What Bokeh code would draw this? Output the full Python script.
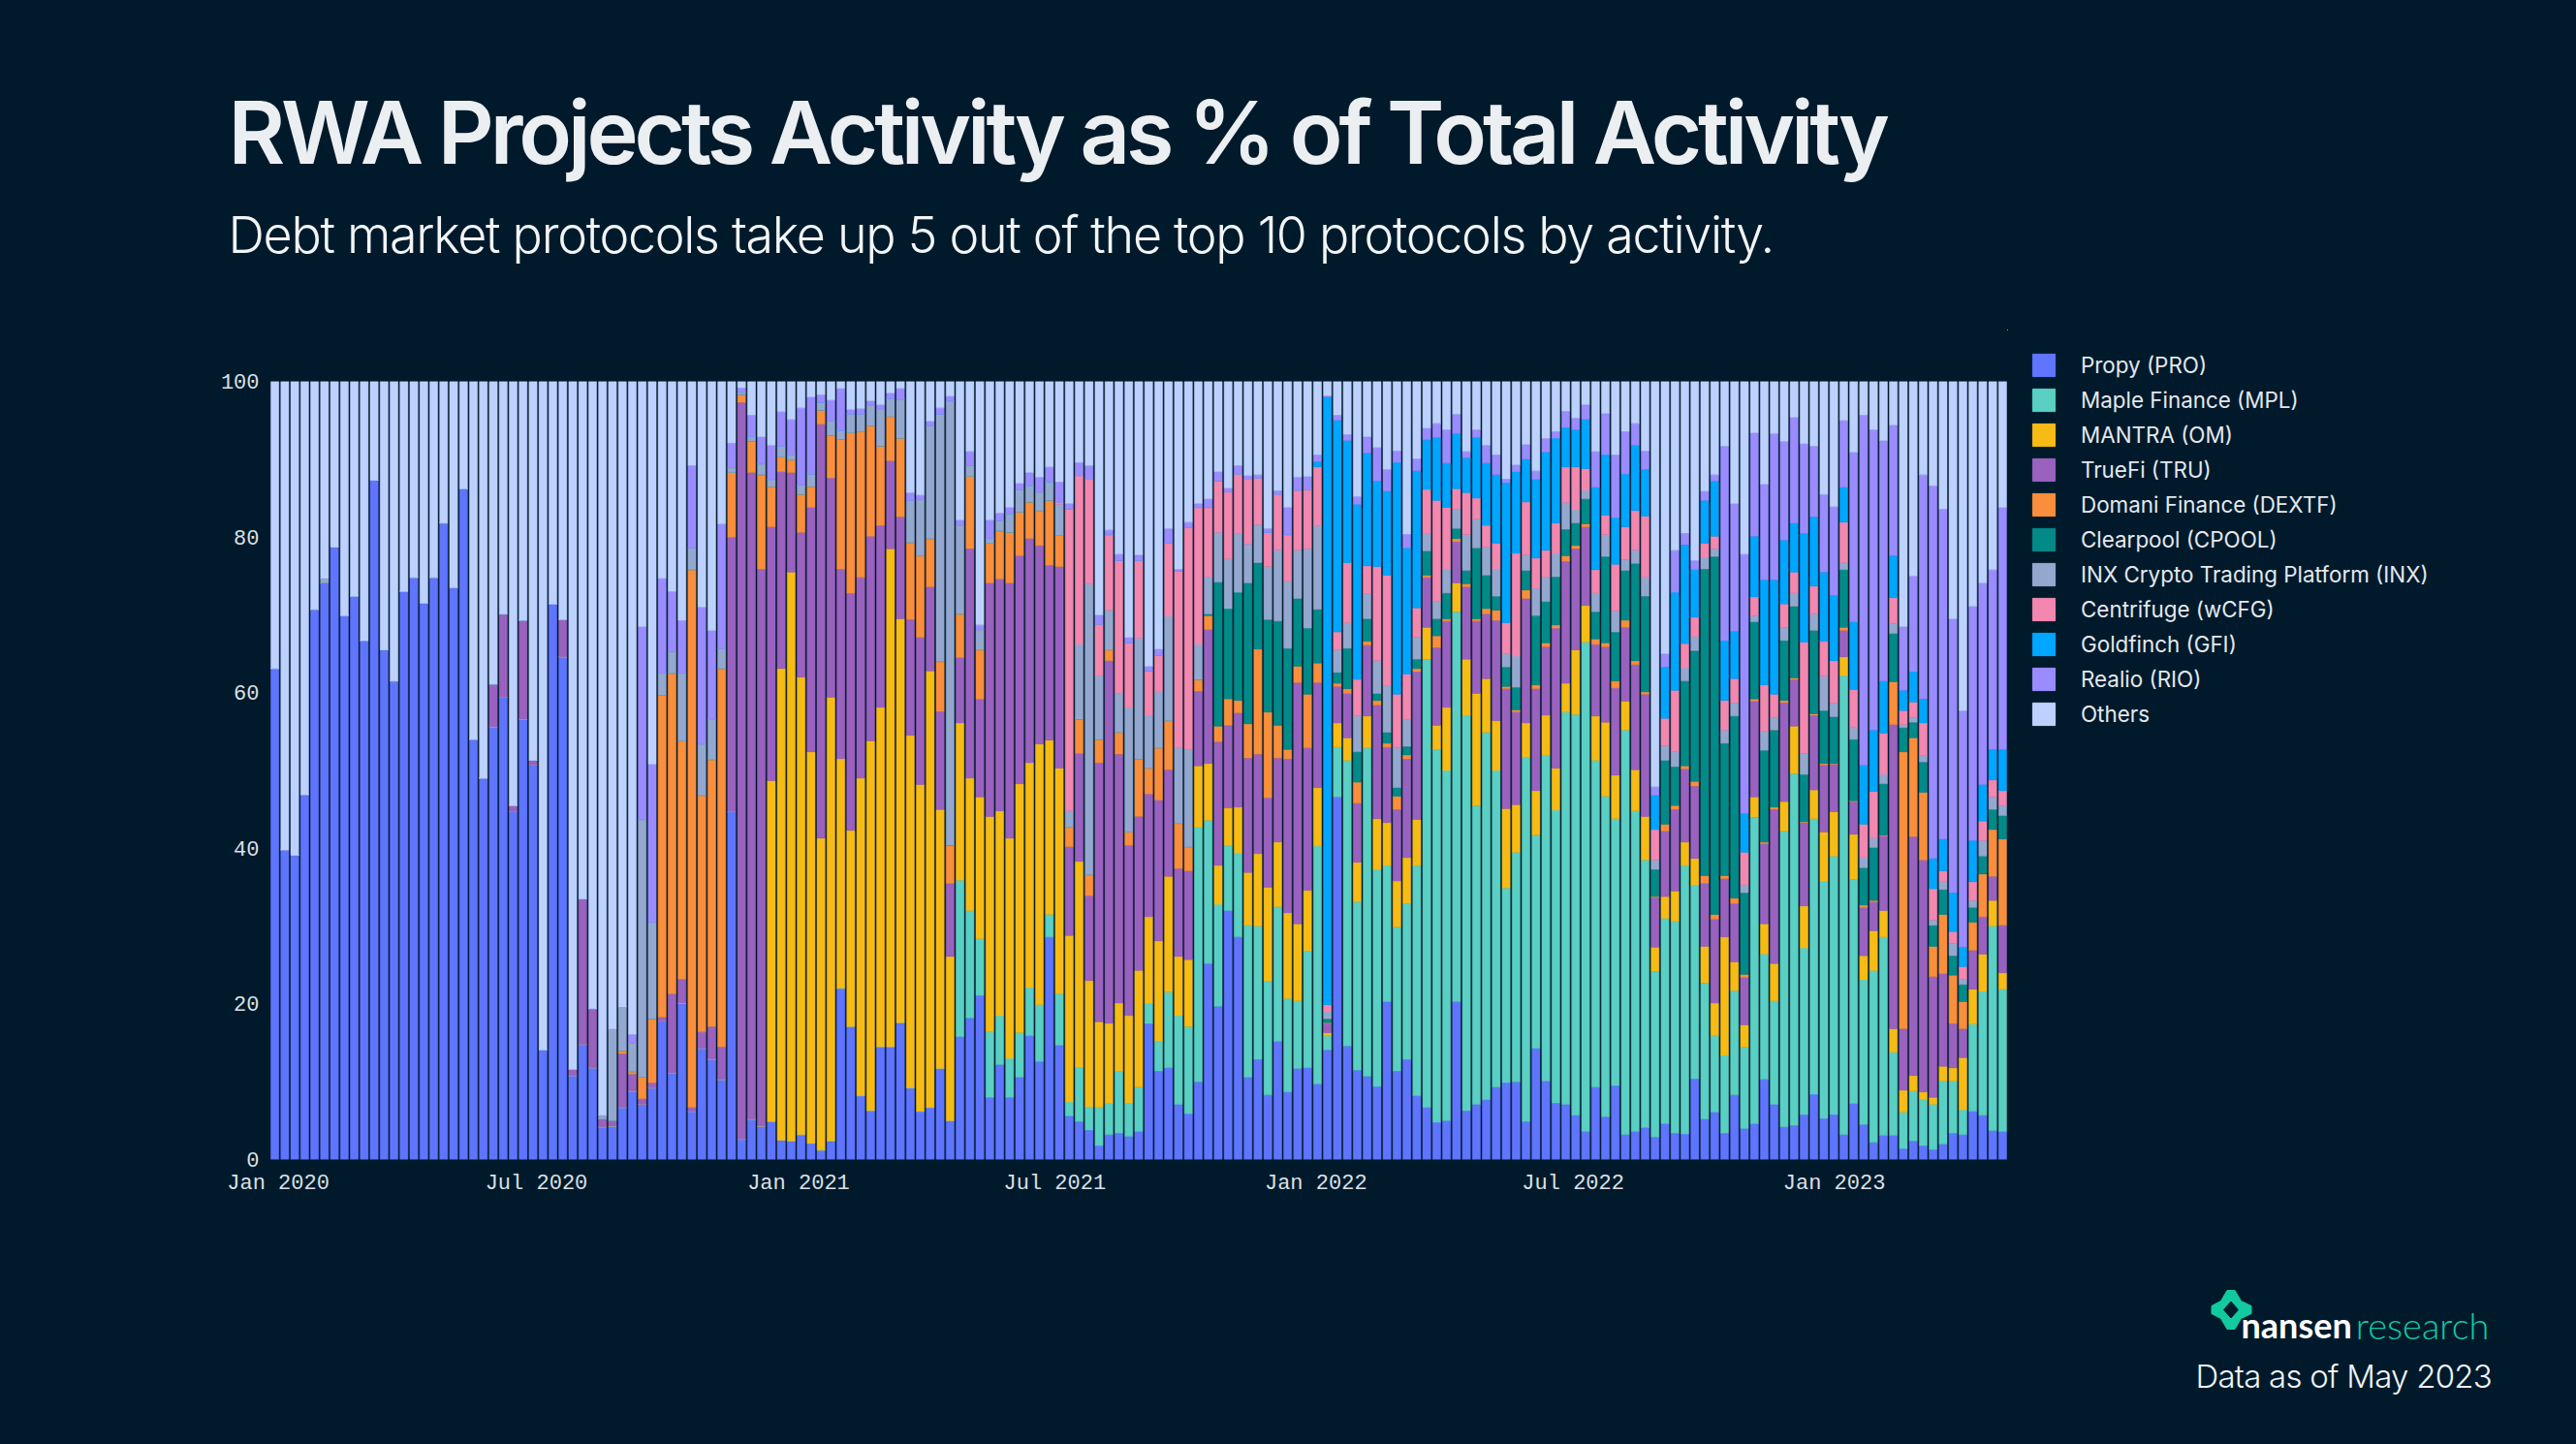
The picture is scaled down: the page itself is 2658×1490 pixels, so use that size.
from bokeh.plotting import figure
from bokeh.layouts import column, row
from bokeh.models import Range1d, ColumnDataSource, Label, Legend, LegendItem, FixedTicker
from bokeh.embed import file_html
from bokeh.resources import INLINE

BG = "#001A2C"
labels_ = ["Propy (PRO)", "Maple Finance (MPL)", "MANTRA (OM)", "TrueFi (TRU)", "Domani Finance (DEXTF)",
           "Clearpool (CPOOL)", "INX Crypto Trading Platform (INX)", "Centrifuge (wCFG)", "Goldfinch (GFI)",
           "Realio (RIO)", "Others"]
colors = ["#5F75FF", "#5ACFC3", "#F6BC15", "#9A62BF", "#F98E3C", "#028A88", "#94A8CF", "#F287B0", "#00A6FF",
          "#9A8CFF", "#BDD1FF"]

pro = [63.1,39.8,39.1,46.9,70.7,74.1,78.7,69.9,72.4,66.7,
       87.3,65.5,61.5,73,74.8,71.5,74.8,81.8,73.5,86.2,
       54,49,55.6,59.4,44.7,56.6,50.7,14.1,71.4,64.6,
       10.8,14.8,11.8,4.2,4.3,6.7,8.8,7.1,9.2,17.8,
       11.1,20.1,6.2,14.3,12.9,10.3,44.7,2.6,5.2,4.3,
       4.9,2.5,2.4,3.2,2.1,1.2,2.4,22,17.1,8.2,
       6.3,14.5,14.5,17.6,9.2,6.2,6.7,11.7,5,15.8,
       18.2,21.1,8,12.2,8,10.6,15.9,12.6,28.6,14.7,
       5.6,4.9,3.8,1.8,3.2,3.4,3,3.6,17.5,11.4,
       11.8,7.1,5.9,10,25.2,19.7,32,28.6,10.6,12.9,
       8.3,15.2,8.7,11.7,11.8,9.7,14.1,46.6,14.6,11.5,
       10.7,9.4,20.3,11.4,12.9,8.2,6.7,4.8,5,20.3,
       6.3,7.1,7.7,9.3,9.9,10,4.9,14.3,10.1,7.3,
       7.1,5.7,3.6,9.3,5.5,9.5,3.2,3.6,4.1,2.9,
       4.6,3.4,3.3,10.4,5.2,6.1,3.4,8.3,4,4.6,
       10.3,7.1,4.2,4.4,5.8,8.4,5.3,5.8,3.2,7.2,
       4.5,2.2,3.1,3.1,1.4,2.4,1.8,1.3,2,3.4,
       3.2,6.2,5.7,3.7,3.6]
mpl = [0]*69 + [20.1,
       13.8,7.3,8.4,6.3,5,5.7,6.2,7.3,2.9,6.6,
       1.8,7,3,4.9,4,7.9,4.3,5.7,2.6,3.8,
       9.7,11.4,11.2,32.7,18.4,13.1,8.4,10.8,19.5,17.1,
       14.6,17.3,12,8.7,15,30.6,1.8,6.4,36.7,21.6,
       42.2,27.9,17.5,18.5,20,29.6,57.6,47.9,45,50.1,
       50.8,38.4,47.2,40.7,25,29.5,46.8,27.4,41.9,37.6,
       50.4,51.5,62.9,42,41.2,34.3,52,41.2,34.4,21.3,
       26.4,27.2,34.5,24.9,17.5,9.8,10,13.4,10.4,39.4,
       16.1,13.3,38,45.2,21.4,35.4,30.5,33.2,59,28.8,
       18.6,22.1,25.5,10.7,4.7,6.4,5.9,5.8,8.1,6.7,
       3.2,11.2,15.9,26.3,18.3]
om = [0]*50 + [43.8,60.6,73.1,58.8,50.3,40.1,57,29.5,25.2,40.8,
       47.5,43.6,64,51.9,45.3,42,56.1,33.3,21.1,20.2,
       17,18.2,27.7,26.3,28.3,32,28.9,33.5,22.4,29,
       21.4,26.4,16.2,11,10.3,8.8,11.2,15,11.1,12.9,
       14.9,7.6,8.6,7.9,7.3,5,4.8,5.9,6.8,9.3,
       12.1,8.3,11,9.9,7.8,7.5,.4,3.1,2.9,5.1,
       4.1,6.5,5.5,5.9,5.9,5.9,4.1,3.1,8.1,3.7,
       7.2,14.4,6.9,6.4,10.2,6.1,4.4,5.7,5.1,5.4,
       3.7,8.3,4.7,5.7,9.5,5.6,3.7,5.3,5.6,3.1,
       2.8,3.9,3,3.4,4.7,4.2,15.2,3.7,2.9,2.6,
       3.9,4.8,3.8,6.1,5.4,3.7,6.3,5.7,2.4,5.8,
       3.1,5.1,3.4,3,2.8,2,1,.9,1.9,1.7,
       6.7,4.5,4.8,3.3,2.1]
tru = [0]*22 + [5.5,10.7,.8,12.7,.6,0,0,4.8,
       .8,18.7,7.6,1,.7,6.9,2.2,.7,.7,.5,
       10.2,3.1,.5,2.1,4.2,4.2,35.3,94.7,83.1,71.6,
       32.6,25.3,12.8,18.6,31.4,53.2,28.2,24.4,30.5,25.8,
       26.3,23.4,11.3,13.1,14.9,18.9,10.8,12.6,9.4,8.4,
       29.5,12.6,30,29.8,32.8,29.3,28.8,25.5,22.5,25.9,
       11.4,13.9,10.9,33.3,46.6,32,21.9,19.8,15.8,18.1,
       13.7,11.3,11.4,9.6,17.2,15.9,10.6,12.1,14.7,12.8,
       11.5,10.8,19.8,31,18.3,13.5,1.2,4.7,5.7,7.6,
       9.1,14.6,9.7,9.2,12.7,19,6.4,10,11.1,5.3,
       9.3,9.3,8.3,12.9,15.4,11.9,16,13.1,8.8,18,
       15.7,13,10.1,9.2,9.7,11.2,9.5,13.5,15.7,6.4,
       8.4,10.5,9.4,9.3,8.1,10.8,7.5,7.5,6.1,12.3,
       10.3,19.8,12.7,6,10.7,9.6,8.6,6.1,3.4,4.2,
       6.2,3.7,9.6,39.1,7.9,30.7,29.8,15.5,11.9,5.7,
       3.7,5,4.8,3.1,6.1]
dex = [0]*35 + [.4,.3,2.8,8.2,41.4,
       41.2,30.6,69.1,30.4,34.3,48.6,8.3,1,4,12.1,
       5.2,1.9,1.6,4.9,2.7,1.8,5.5,16.7,20.6,18.8,
       14.2,10.2,5.7,10.1,9.9,10.5,6.2,6.4,4.9,5.6,
       9.3,6.3,5.1,6.2,6.5,5.6,4.7,4.5,8.3,4,
       2.5,4.4,2.7,3,1.4,2.8,1.7,7.4,3.3,6.7,
       6.3,5.8,3.1,1.5,1.8,2,3.4,1.6,4.4,13.5,
       11,4.2,1.2,2.1,6.9,2.5,.1,.4,.6,2.7,
       .5,.6,.5,1.7,.5,.4,.3,1.5,.3,.4,
       .4,.3,.7,1.3,.3,.3,1.1,.5,.5,.4,
       .7,.4,.4,.7,.5,.9,.9,.5,.3,.1,
       .9,.5,.4,.6,1,.6,.4,.7,.4,.3,
       .2,.3,.3,.2,.1,.2,.2,.1,.4,.1,
       .3,.2,.1,5.5,35.6,12.7,8.7,3.9,7.6,6.2,
       3.5,3.6,5.5,6,11.1]
cpool = [0]*94 + [.2,18.5,11.6,13.9,18.1,11.1,
       11.9,13.4,13,8.7,8.5,6.9,.5,1.4,5.2,3.9,
       2.9,.9,1.4,1.1,1.1,1.2,3.1,2.2,3.3,1.3,
       1.7,9.1,4.3,1.8,2.5,2.9,2.5,8.9,5.3,6.2,
       3.4,2.9,3.2,3.5,11.1,6.3,6.4,12.5,12.3,3.5,
       8.2,5,10.9,16.8,39.4,46,17,23.4,10.5,9.9,
       11.8,9.9,7.7,9.2,6.1,10.7,6.8,6,7.4,7.9,
       4.8,6.8,6.6,6.2,3.1,2,3.9,2.7,3.2,2.5,
       2.2,1.9,2.3,2.6,3]
inx = [0]*5 + [.6] + [0]*27 + [.5,11.8,5.6,3.7,33.1,12.4,2.8,
       2.8,8.7,2.8,6.6,5.2,2.6,.6,.3,.6,1.4,
       .9,1.4,.7,1.2,1.6,1,1.8,1.1,2.4,2.2,
       2.6,4.7,2.3,5,5.4,7.2,14.5,31.8,57.1,11.4,
       1.4,2.6,.7,1.3,2.4,2.9,2.1,2.4,2.4,4,
       2.1,9.6,37.4,8.2,5.1,5,16,15.5,6.8,7.2,
       13.4,9.7,12.5,4.5,4.8,6.4,6.4,7.6,5,4.9,
       6.8,9.1,8.6,6.2,10.2,10.7,.9,2.9,3.3,4.6,
       3.2,4.2,6,5.1,3.4,2.8,2.2,2.2,3.1,2.5,
       4.6,3.7,3.6,3.5,1.7,4,2,3.5,3.2,3,
       3.4,1.7,1.1,2.4,2.8,2.7,1.4,1.7,2.4,1.2,
       1.9,1.9,1.7,1.8,1.5,1,1.7,1.7,1,.8,
       2.4,1.6,1.7,1.7,2.7,2.1,4.4,1.8,.9,1.5,
       1.3,1.2,1.2,1.3,.4,.6,.8,.7,1,1.6,
       .7,.9,2,1.6,1.3]
wcfg = [0]*79 + [.3,
       38.8,21.7,13.5,6.6,9.7,17.1,8.3,10,5.7,4.7,
       9.4,22.7,28.5,17.6,8.9,6.6,8.6,7.6,8.4,6,
       4.4,7.2,6,7.7,7.6,7.6,.9,2.3,7.7,4.7,
       3.6,12.1,14.2,6.9,5.9,3.8,5.7,13,7.9,2.6,
       5.4,2.7,2.8,3.3,4,13.2,6.8,3.9,3.4,3.9,
       4.6,5.5,2.8,3,2.5,6,4.2,5.1,7.9,3.9,
       3.5,7.9,3.1,2.5,1.8,1.6,3.8,3.1,4.2,2.4,
       6,3,3,2.7,14.3,3.6,4.5,5.4,5.2,4.9,
       4.3,6,5.3,3.3,1.8,2,4.2,4,1.4,1.5,
       1.6,2.4,2.5,2.2,1.9]
gfi = [0]*105 + [.7,78.1,27.2,15.7,22.5,
       14.5,11,10.8,29.8,16.2,17.6,6.4,8.1,5.7,7.1,
       4.5,7.8,8,8.8,18,10.5,5.5,10.1,12.6,10.9,
       5.1,4.8,6.3,10.6,7.8,6,6.8,8.4,6,4.4,
       6.6,12.6,12.7,6.1,5.5,7.1,7.7,6.1,5,7.8,
       13.5,14.7,8.2,6.3,14,8.9,8.9,8.4,4.5,8.7,
       7.6,7.9,6.7,5.4,2.6,3.9,3.1,3.9,4.1,5,
       2.5,5.3,4.7,3.9,5.3]
rio = [0]*36 + [1.1,24.8,20.3,12.2,
       7.7,6.8,10.6,17.6,11.4,16,3.2,.6,2.8,3.5,
       4.4,4.4,4.5,9.9,9.9,1,2.7,5.4,.6,.7,
       .6,.6,.7,1.4,1,.6,.6,.8,.6,.7,
       1.8,.6,2.3,1,.8,.8,1.7,1.9,1.9,2.6,
       .7,1.7,1.7,1.2,.6,.8,.7,.7,.6,.8,
       1.9,.3,.7,.5,1.1,1.2,.5,1.1,.4,.4,
       .5,.5,3.5,1.7,1.7,.9,.2,.7,.8,1,
       2.1,4.3,2.8,1.5,1.8,1.6,1.5,1.8,4.3,2.5,
       .8,1,2.3,2.6,.5,.9,1.9,1.1,1.8,.9,
       2.1,1.5,1.9,4.6,5.3,8.1,5.5,2.8,2.4,1.1,
       1.7,5.4,1.5,1.2,1.2,.8,25,16.4,33.3,13.3,
       12.3,18.8,12.7,13.6,11.5,9.1,10,11.4,8.6,21.8,
       45,38.6,30.9,16.8,8.2,12.3,28.8,47.9,42.4,35.2,
       30.4,30.1,25.9,23.1,31.1]
others = [36.9,60.2,60.9,53.1,29.3,25.3,21.3,30.1,27.6,33.3,
       12.7,34.5,38.5,27,25.2,28.5,25.2,18.2,26.5,13.8,
       46,51,38.9,29.9,54.5,30.7,48.7,85.9,28.6,30.6,
       88.4,66.5,80.6,94.3,83.2,80.4,83.9,31.5,49.2,25.3,
       27,30.7,10.8,29,32,18.3,7.9,.8,4.3,7.1,
       8.2,3.9,4.9,3.4,2,1.7,2.4,.9,3.6,3.5,
       2.5,3,1.5,.9,14.3,14.6,5.1,3.4,1.9,17.8,
       9,31.3,17.8,16.9,16.2,13.1,11.7,12.3,11,12.9,
       15.7,10.4,10.8,30,19.1,22.2,32.9,22.3,36.6,34.4,
       18.9,24.1,18.1,15.7,15.1,11.6,13.7,10.8,12.1,12,
       18.9,14,16.2,12.3,12.2,9.4,1.8,4.3,6.8,14.8,
       7.1,8.5,11.3,8.9,19.6,9.9,6,5.4,6.2,4.2,
       9,6.2,8.2,9.4,12.5,10.7,8.1,11.5,7.3,6.4,
       3.8,4.7,3,9,4.1,9.4,6.4,5.4,8.9,52.1,
       35,21.7,19.5,23,14.1,12,8.3,15.7,22.2,6.6,
       13.2,6.7,7.7,4.6,8,8.3,14.5,16.2,5,9.1,
       4.3,6.2,7.6,5.6,31.5,25,12,13.4,16.4,30.5,
       42.3,28.9,25.9,24.2,16.2]

week = list(range(len(pro)))
tick_pos = [0.34, 26.34, 52.74, 78.54, 104.84, 130.74, 157.04]
tick_lab = ["Jan 2020", "Jul 2020", "Jan 2021", "Jul 2021", "Jan 2022", "Jul 2022", "Jan 2023"]
y_ticks = [0, 20, 40, 60, 80, 100]

keys = ["pro", "mpl", "om", "tru", "dex", "cpool", "inx", "wcfg", "gfi", "rio", "others"]
src = ColumnDataSource(dict(week=week, pro=pro, mpl=mpl, om=om, tru=tru, dex=dex, cpool=cpool, inx=inx,
                            wcfg=wcfg, gfi=gfi, rio=rio, others=others))

W, H = 2658, 1490
HEAD, FOOT, PLOT_R = 340, 1300, 2071   # page rows/columns where the panels meet

p = figure(width=PLOT_R, height=FOOT - HEAD, output_backend="svg", toolbar_location=None,
           x_range=Range1d(-0.5, 174.5), y_range=Range1d(0, 100),
           min_border_left=278, min_border_right=0, min_border_top=393 - HEAD, min_border_bottom=FOOT - 1196,
           background_fill_color=BG, border_fill_color=BG, outline_line_color=None, frame_align=False)
p.grid.visible = False
p.vbar_stack(keys, x="week", width=0.8, source=src, color=colors, line_color=colors, line_width=1, line_alpha=0.5)

for ax in (p.xaxis[0], p.yaxis[0]):
    ax.axis_line_color = None
    ax.major_tick_line_color = None
    ax.minor_tick_line_color = None
    ax.major_label_text_font = "Liberation Mono"
    ax.major_label_text_font_size = "22px"
    ax.major_label_text_color = "#DCE0E4"
p.xaxis[0].ticker = FixedTicker(ticks=tick_pos)
p.xaxis[0].major_label_overrides = {t: s for t, s in zip(tick_pos, tick_lab)}
p.yaxis[0].ticker = FixedTicker(ticks=y_ticks)
p.xaxis[0].major_label_standoff = 6
p.yaxis[0].major_label_standoff = 5


def plain(left, right, top, bottom):
    f = figure(width=right - left, height=bottom - top, output_backend="svg", toolbar_location=None,
               x_range=Range1d(left, right), y_range=Range1d(bottom, top), min_border=0,
               x_axis_location=None, y_axis_location=None,
               background_fill_color=BG, border_fill_color=BG, outline_line_color=None, frame_align=False)
    f.grid.visible = False
    return f


def txt(f, s, x, y, size, color="#F2F4F6", style="normal", font="Inter", align="left"):
    # y is the wanted baseline; the svg backend draws an "alphabetic" label about 0.39 em too low
    f.add_layout(Label(x=x, y=y - 0.39 * size, text=s, text_font=font, text_font_size=f"{size}px", text_color=color,
                       text_font_style=style, text_align=align, text_baseline="alphabetic"))


leg = plain(PLOT_R, W, HEAD, FOOT)
# the swatches belong to bars parked outside this panel's range: they only feed the legend
swatches = [leg.vbar(x=[0], top=[0], bottom=[0], width=1, fill_color=c, line_color=c) for c in colors]
legend = Legend(items=[LegendItem(label=l, renderers=[r]) for l, r in zip(labels_, swatches)],
                location=(23, 549),
                orientation="vertical", background_fill_alpha=0, border_line_color=None,
                glyph_width=29, glyph_height=29, label_standoff=24, spacing=7, padding=0, margin=0,
                label_text_font="Inter", label_text_font_size="22.4px", label_text_color="#E4E8EC",
                label_height=23)
leg.add_layout(legend, "center")

head = plain(0, W, 0, HEAD)
txt(head, "RWA Projects Activity as % of Total Activity", 235, 171, 90, color="#ECEFF2", font="Inter SemiBold")
txt(head, "Debt market protocols take up 5 out of the top 10 protocols by activity.", 235, 262, 52, font="Inter Light")

foot = plain(0, W, FOOT, H)
txt(foot, "Data as of May 2023", 2265, 1432, 33, font="Inter Light")
txt(foot, "nansen", 2312, 1381, 36, color="#FFFFFF", style="bold", font="Lato")
txt(foot, "research", 2568, 1381, 38, color="#12C9A0", font="Lato Light", align="right")

star_x = [2297.5, 2305.5, 2312, 2322.5, 2322.5, 2312, 2305.5, 2297.5, 2291, 2281.5, 2281.5, 2291]
star_y = [1331, 1331, 1342, 1347, 1355, 1360, 1371, 1371, 1360, 1355, 1347, 1342]
hole_x = [2301.5, 2309, 2301.5, 2294]
hole_y = [1342.5, 1351, 1359.5, 1351]
foot.patch(star_x, star_y, fill_color="#12C9A0", line_color="#12C9A0")
foot.patch(hole_x, hole_y, fill_color=BG, line_color=BG)

page = column(head, row(p, leg, spacing=0), foot, spacing=0)

# Bokeh has no letter-spacing property, and the reference's large Inter text is tightly tracked
tracking = """<script>
(function () {
  const rules = [["RWA", -4.1], ["Debt", -1.3], ["Data as", -0.75]];
  function walk(root) {
    root.querySelectorAll('*').forEach(el => {
      if (el.shadowRoot) walk(el.shadowRoot);
      if (el.tagName.toLowerCase() === 'text') {
        for (const r of rules)
          if ((el.textContent || '').startsWith(r[0])) el.setAttribute('letter-spacing', r[1]);
      }
    });
  }
  setInterval(() => walk(document), 100);
})();
</script>"""
html = file_html(page, INLINE)
html = html.replace("<head>", f"<head><style>html,body{{background:{BG};overflow:hidden;}}</style>", 1)
html = html.replace("</body>", tracking + "</body>", 1)
open("out.html", "w").write(html)
